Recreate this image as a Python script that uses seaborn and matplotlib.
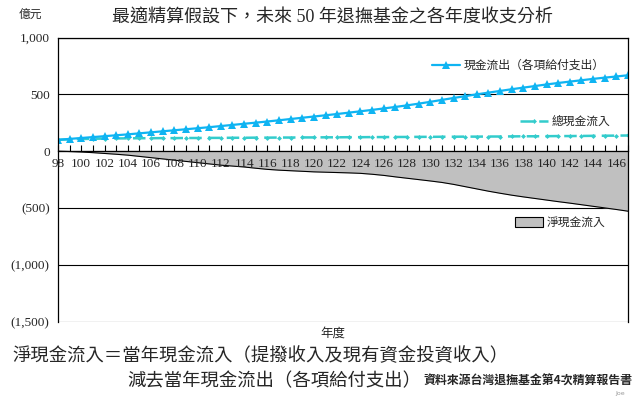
import matplotlib
matplotlib.use('Agg')
from matplotlib import pyplot as plt
from matplotlib.lines import Line2D
from matplotlib.patches import Patch
from matplotlib.ticker import FuncFormatter, MultipleLocator
import pandas as pd
import seaborn as sns

years = list(range(98, 148))
outflow = [100, 108, 116, 124, 132, 140, 148, 157, 166, 175,
           184, 193, 202, 211, 221, 231, 241, 251, 261, 272,
           283, 294, 305, 316, 327, 339, 351, 363, 376, 389,
           403, 418, 434, 451, 468, 484, 500, 515, 530, 545,
           559, 573, 587, 600, 612, 624, 636, 647, 657, 668]
inflow = [100, 104, 107, 109, 111, 112, 113, 114, 114, 115,
          115, 116, 116, 117, 117, 118, 118, 119, 119, 120,
          120, 121, 121, 122, 122, 123, 123, 124, 124, 125,
          125, 126, 126, 127, 127, 128, 128, 129, 129, 130,
          131, 131, 132, 133, 133, 134, 135, 136, 137, 138]
net = [0, -3, -7, -13, -20, -27, -35, -46, -57, -68,
       -79, -90, -101, -112, -123, -131, -139, -150, -160, -167,
       -172, -177, -182, -185, -188, -191, -195, -203, -213, -226,
       -238, -250, -262, -275, -292, -312, -332, -352, -370, -387,
       -402, -416, -430, -444, -457, -471, -485, -499, -513, -528]
y_ticks = [-1500, -1000, -500, 0, 500, 1000]

OUT_C = '#0FB4F2'
IN_C = '#33CCCC'
NET_C = '#C0C0C0'

sns.set_style('white')
plt.rcParams['font.family'] = ['Liberation Serif', 'Noto Sans CJK TC']
plt.rcParams['axes.unicode_minus'] = False

df = pd.DataFrame({'year': years, 'outflow': outflow,
                   'inflow': inflow, 'net': net})

fig = plt.figure(figsize=(6.4, 3.99), dpi=100)
ax = fig.add_axes([58 / 640, 1 - 321.7 / 399, 570 / 640, 284.2 / 399])

ax.fill_between(df['year'], df['net'], 0, color=NET_C, lw=0)
sns.lineplot(df, x='year', y='net', color='black', lw=0.8, ax=ax)
sns.lineplot(df, x='year', y='inflow', color=IN_C, lw=1.8,
             linestyle=(0, (5, 2.5)), marker='D', markersize=2.5,
             markeredgewidth=0, ax=ax)
sns.lineplot(df, x='year', y='outflow', color=OUT_C, lw=1.6,
             marker='^', markersize=5.5, markeredgewidth=0, ax=ax)

ax.set_xlim(98, 147)
ax.set_ylim(-1500, 1000)
ax.set_yticks(y_ticks)
ax.yaxis.set_major_formatter(FuncFormatter(
    lambda v, _: f'({abs(int(v)):,})' if v < 0 else f'{int(v):,}'))
ax.xaxis.set_major_locator(MultipleLocator(2))
ax.xaxis.set_minor_locator(MultipleLocator(1))
ax.set(xlabel='', ylabel='')
ax.grid(axis='y', color='black', lw=0.8)
ax.grid(axis='x', visible=False)

for side in ['top', 'right', 'left', 'bottom']:
    ax.spines[side].set_color('black')
    ax.spines[side].set_linewidth(0.9)
ax.spines['bottom'].set_position(('data', 0))
ax.tick_params(axis='x', which='both', direction='in', length=4,
               width=0.8, color='black', labelsize=9.5, pad=5, bottom=True)
ax.tick_params(axis='y', length=0, labelsize=9.5, pad=6)
# year labels sit on top of the grey area, as in the original
ax.xaxis.set_zorder(3)

# titles and notes
fig.text(332 / 640, 1 - 18 / 399,
         '最適精算假設下，未來 50 年退撫基金之各年度收支分析',
         ha='center', va='center', fontsize=13)
fig.text(30 / 640, 1 - 16 / 399, '億元', ha='center', va='center',
         fontsize=8.5)
fig.text(333 / 640, 1 - 334 / 399, '年度', ha='center', va='center',
         fontsize=9)
fig.text(12 / 640, 1 - 356 / 399,
         '淨現金流入＝當年現金流入（提撥收入及現有資金投資收入）',
         ha='left', va='center', fontsize=13.2)
fig.text(127 / 640, 1 - 382 / 399,
         '減去當年現金流出（各項給付支出）',
         ha='left', va='center', fontsize=13.2)
fig.text(632 / 640, 1 - 381 / 399, '資料來源台灣退撫基金第4次精算報告書',
         ha='right', va='center', fontsize=8.6,
         family=['Noto Sans CJK TC'], fontweight='bold')
fig.text(620 / 640, 1 - 394 / 399, 'Joe', ha='center', va='center',
         fontsize=4.5, color='#999999', family=['DejaVu Sans'])

# separate legends
legend_kw = dict(frameon=False, fontsize=8.5, borderpad=0, borderaxespad=0,
                 handletextpad=0.3, loc='center left', numpoints=1)
fig.legend(handles=[Line2D([], [], color=OUT_C, lw=1.6, marker='^',
                           markersize=5.5, markeredgewidth=0)],
           labels=['現金流出（各項給付支出）'], handlelength=2.4,
           bbox_to_anchor=(432 / 640, 1 - 66 / 399), **legend_kw)
fig.legend(handles=[Line2D([], [], color=IN_C, lw=1.8,
                           linestyle=(0, (5, 2.5)), marker='D',
                           markersize=2.5, markeredgewidth=0)],
           labels=['總現金流入'], handlelength=2.4,
           bbox_to_anchor=(520 / 640, 1 - 122 / 399), **legend_kw)
fig.legend(handles=[Patch(facecolor=NET_C, edgecolor='black', lw=0.8)],
           labels=['淨現金流入'], handlelength=2.4, handleheight=0.9,
           bbox_to_anchor=(515 / 640, 1 - 223 / 399), **legend_kw)

fig.savefig('out.png', dpi=100, facecolor='white')
plt.close(fig)
